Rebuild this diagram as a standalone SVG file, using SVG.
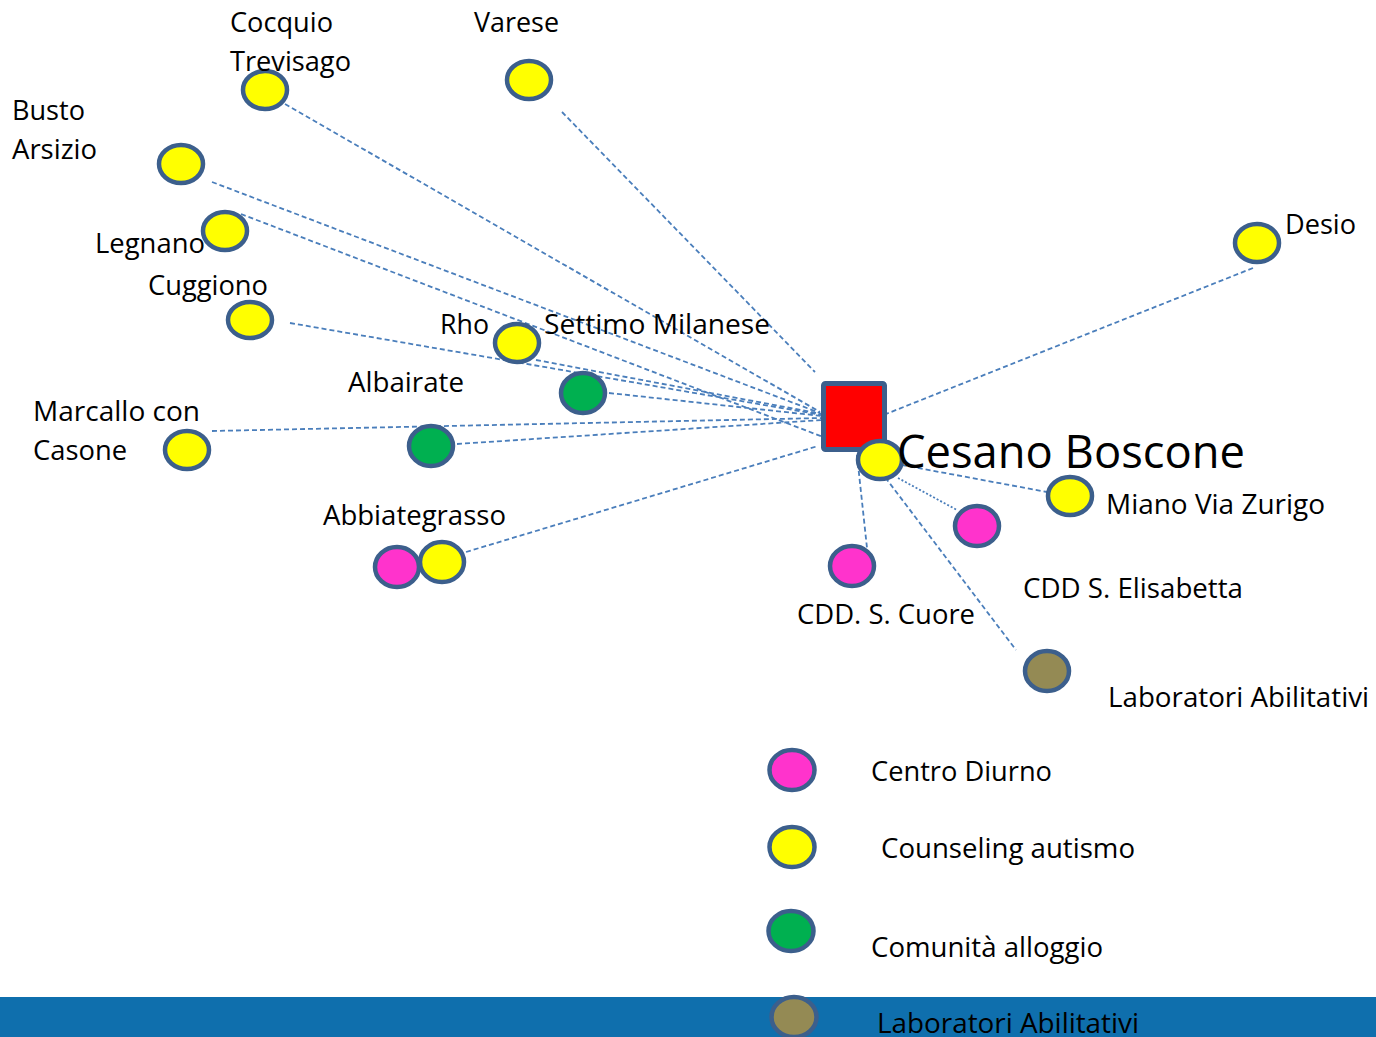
<svg xmlns="http://www.w3.org/2000/svg" width="1376" height="1037" viewBox="0 0 1376 1037">
<style>
.n{stroke:#3C5F8C;stroke-width:4.5}
.y{fill:#FFFF00}.p{fill:#FF33CC}.g{fill:#00B050}.o{fill:#948A54}
.t{font-family:"Open Sans","Liberation Sans",sans-serif;font-size:27px;fill:#000}
.c line{stroke:#4A7EBB;stroke-width:1.8;stroke-dasharray:5 3;fill:none}
</style>
<rect x="0" y="0" width="1376" height="1037" fill="#FFFFFF"/>
<rect x="0" y="997" width="1376" height="40" fill="#0F6FAD"/>
<g id="connectors" class="c">
<line x1="285" y1="104" x2="820" y2="412"/>
<line x1="562" y1="112" x2="815" y2="372"/>
<line x1="212" y1="182" x2="820" y2="413"/>
<line x1="241" y1="214" x2="870" y2="455"/>
<line x1="290" y1="323" x2="822" y2="415"/>
<line x1="536" y1="360" x2="822" y2="414"/>
<line x1="609" y1="393" x2="822" y2="416"/>
<line x1="212" y1="431" x2="822" y2="418"/>
<line x1="457" y1="444" x2="822" y2="420"/>
<line x1="466" y1="552" x2="818" y2="446"/>
<line x1="1253" y1="268" x2="886" y2="414"/>
<line x1="902" y1="465" x2="1047" y2="492"/>
<line x1="898" y1="478" x2="957" y2="510" style="stroke-dasharray:2 2"/>
<line x1="857" y1="455" x2="867" y2="548"/>
<line x1="866" y1="452" x2="1016" y2="650"/>
</g>
<g id="cesano-boscone">
<rect x="823.5" y="383.5" width="61" height="66" rx="2" fill="#FF0000" stroke="#3C5F8C" stroke-width="5"/>
<ellipse class="n y" cx="880" cy="460" rx="22" ry="19"/>
<text class="t" x="897" y="468" style="font-size:46px" textLength="348" lengthAdjust="spacingAndGlyphs">Cesano Boscone</text>
</g>
<g id="cocquio-trevisago">
<ellipse class="n y" cx="265" cy="90" rx="22" ry="19"/>
<text class="t" x="230" y="32" textLength="103" lengthAdjust="spacingAndGlyphs">Cocquio</text>
<text class="t" x="230" y="71" textLength="121" lengthAdjust="spacingAndGlyphs">Trevisago</text>
</g>
<g id="varese">
<ellipse class="n y" cx="529" cy="80" rx="22" ry="19"/>
<text class="t" x="474" y="32" textLength="85" lengthAdjust="spacingAndGlyphs">Varese</text>
</g>
<g id="busto-arsizio">
<ellipse class="n y" cx="181" cy="164" rx="22" ry="19"/>
<text class="t" x="12" y="120" textLength="73" lengthAdjust="spacingAndGlyphs">Busto</text>
<text class="t" x="12" y="159" textLength="85" lengthAdjust="spacingAndGlyphs">Arsizio</text>
</g>
<g id="legnano">
<text class="t" x="95" y="253" textLength="110" lengthAdjust="spacingAndGlyphs">Legnano</text>
<ellipse class="n y" cx="225" cy="231" rx="22" ry="19"/>
</g>
<g id="cuggiono">
<ellipse class="n y" cx="250" cy="320" rx="22" ry="18"/>
<text class="t" x="148" y="295" textLength="120" lengthAdjust="spacingAndGlyphs">Cuggiono</text>
</g>
<g id="rho">
<ellipse class="n y" cx="517" cy="343" rx="22" ry="19"/>
<text class="t" x="440" y="334" textLength="49" lengthAdjust="spacingAndGlyphs">Rho</text>
</g>
<g id="settimo-milanese">
<text class="t" x="544" y="334" textLength="226" lengthAdjust="spacingAndGlyphs">Settimo Milanese</text>
<ellipse class="n g" cx="583" cy="393" rx="22" ry="20"/>
</g>
<g id="albairate">
<text class="t" x="348" y="392" textLength="116" lengthAdjust="spacingAndGlyphs">Albairate</text>
<ellipse class="n g" cx="431" cy="446" rx="22" ry="20"/>
</g>
<g id="marcallo-con-casone">
<ellipse class="n y" cx="187" cy="450" rx="22" ry="19"/>
<text class="t" x="33" y="421" textLength="167" lengthAdjust="spacingAndGlyphs">Marcallo con</text>
<text class="t" x="33" y="460" textLength="94" lengthAdjust="spacingAndGlyphs">Casone</text>
</g>
<g id="abbiategrasso">
<text class="t" x="323" y="525" textLength="183" lengthAdjust="spacingAndGlyphs">Abbiategrasso</text>
<ellipse class="n p" cx="397" cy="567" rx="22" ry="20"/>
<ellipse class="n y" cx="442" cy="562" rx="22" ry="20"/>
</g>
<g id="desio">
<ellipse class="n y" cx="1257" cy="243" rx="22" ry="19"/>
<text class="t" x="1285" y="234" textLength="71" lengthAdjust="spacingAndGlyphs">Desio</text>
</g>
<g id="miano-via-zurigo">
<ellipse class="n y" cx="1070" cy="496" rx="22" ry="19"/>
<text class="t" x="1106" y="514" textLength="219" lengthAdjust="spacingAndGlyphs">Miano Via Zurigo</text>
</g>
<g id="cdd-s-elisabetta">
<ellipse class="n p" cx="977" cy="526" rx="22" ry="20"/>
<text class="t" x="1023" y="598" textLength="220" lengthAdjust="spacingAndGlyphs">CDD S. Elisabetta</text>
</g>
<g id="cdd-s-cuore">
<ellipse class="n p" cx="852" cy="566" rx="22" ry="20"/>
<text class="t" x="797" y="624" textLength="178" lengthAdjust="spacingAndGlyphs">CDD. S. Cuore</text>
</g>
<g id="laboratori-abilitativi">
<ellipse class="n o" cx="1047" cy="671" rx="22" ry="20"/>
<text class="t" x="1108" y="707" textLength="261" lengthAdjust="spacingAndGlyphs">Laboratori Abilitativi</text>
</g>
<g id="legend">
<ellipse class="n p" cx="792" cy="770" rx="22.5" ry="20"/>
<text class="t" x="871" y="781" textLength="181" lengthAdjust="spacingAndGlyphs">Centro Diurno</text>
<ellipse class="n y" cx="792" cy="847" rx="22.5" ry="20"/>
<text class="t" x="881" y="858" textLength="254" lengthAdjust="spacingAndGlyphs">Counseling autismo</text>
<ellipse class="n g" cx="791" cy="931" rx="22.5" ry="20"/>
<text class="t" x="871" y="957" textLength="232" lengthAdjust="spacingAndGlyphs">Comunità alloggio</text>
<ellipse class="n o" cx="794" cy="1017" rx="22.5" ry="20"/>
<text class="t" x="877" y="1033" textLength="262" lengthAdjust="spacingAndGlyphs">Laboratori Abilitativi</text>
</g>
</svg>
